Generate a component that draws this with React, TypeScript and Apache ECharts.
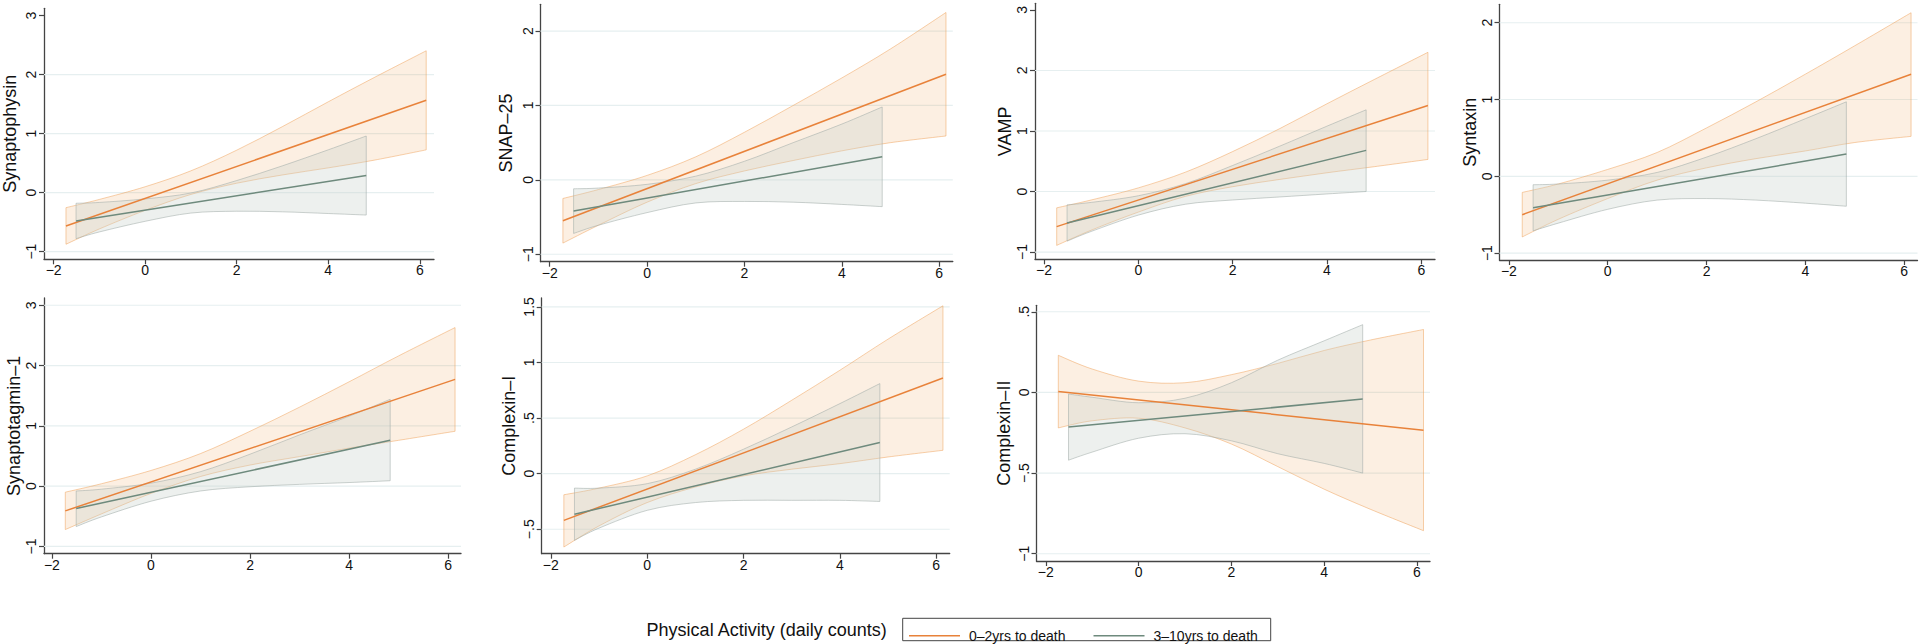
import React, { useEffect, useRef } from "react";
import * as echarts from "echarts";

const FONT = "'Liberation Sans', Arial, Helvetica, sans-serif";

// ---------- texts ----------
const earlyLabel = "0–2yrs to death";
const lateLabel = "3–10yrs to death";
const xTitle = "Physical Activity (daily counts)";
const panelNames = [
  "Synaptophysin",
  "SNAP–25",
  "VAMP",
  "Syntaxin",
  "Synaptotagmin–1",
  "Complexin–I",
  "Complexin–II",
];

// ---------- axes ----------
const xTicks = [-2, 0, 2, 4, 6];
const yTicks = [
  [-1, 0, 1, 2, 3],
  [-1, 0, 1, 2],
  [-1, 0, 1, 2, 3],
  [-1, 0, 1, 2],
  [-1, 0, 1, 2, 3],
  [-0.5, 0, 0.5, 1, 1.5],
  [-1, -0.5, 0, 0.5],
];
const yGridValues = [
  [-1, 0, 1, 2],
  [-1, 0, 1, 2],
  [-1, 0, 1, 2],
  [-1, 0, 1, 2],
  [-1, 0, 1, 2, 3],
  [-0.5, 0, 0.5, 1, 1.5],
  [-1, -0.5, 0, 0.5],
];
const xRanges = [
  [-2.21, 6.31],
  [-2.19, 6.28],
  [-2.19, 6.29],
  [-2.19, 6.27],
  [-2.16, 6.26],
  [-2.19, 6.28],
  [-2.2, 6.28],
];
const yRanges = [
  [-1.13, 3.125],
  [-1.1, 2.36],
  [-1.12, 3.11],
  [-1.09, 2.24],
  [-1.12, 3.12],
  [-0.72, 1.58],
  [-1.045, 0.54],
];

// ---------- data ----------
const earlyX = [-1.73, -1, 0, 1, 2, 3, 4, 5, 6.14];
const lateX = [-1.51, -1, 0, 1, 2, 3, 4, 4.83];

// fitted line at first / last x
const earlyFit = [
  [-0.565, 1.565],
  [-0.55, 1.42],
  [-0.58, 1.42],
  [-0.5, 1.33],
  [-0.41, 1.77],
  [-0.42, 0.86],
  [0.006, -0.234],
];
const lateFit = [
  [-0.48, 0.29],
  [-0.42, 0.31],
  [-0.52, 0.68],
  [-0.41, 0.29],
  [-0.37, 0.76],
  [-0.365, 0.28],
  [-0.215, -0.041],
];

// confidence band edges at earlyX / lateX
const earlyHi = [
  [-0.255, -0.115, 0.1, 0.37, 0.72, 1.12, 1.54, 1.95, 2.405],
  [-0.25, -0.13, 0.06, 0.31, 0.64, 1.0, 1.37, 1.76, 2.25],
  [-0.27, -0.14, 0.06, 0.32, 0.66, 1.04, 1.45, 1.85, 2.3],
  [-0.21, -0.1, 0.09, 0.31, 0.63, 0.97, 1.33, 1.7, 2.13],
  [-0.1, 0.04, 0.26, 0.54, 0.91, 1.31, 1.73, 2.16, 2.63],
  [-0.19, -0.13, -0.02, 0.17, 0.4, 0.66, 0.93, 1.21, 1.51],
  [0.23, 0.145, 0.07, 0.06, 0.11, 0.18, 0.26, 0.325, 0.39],
];
const earlyLo = [
  [-0.875, -0.615, -0.3, -0.03, 0.16, 0.3, 0.42, 0.55, 0.725],
  [-0.85, -0.61, -0.3, -0.05, 0.12, 0.26, 0.39, 0.5, 0.59],
  [-0.89, -0.64, -0.34, -0.08, 0.08, 0.2, 0.31, 0.41, 0.53],
  [-0.79, -0.56, -0.29, -0.05, 0.11, 0.23, 0.33, 0.44, 0.52],
  [-0.72, -0.46, -0.12, 0.16, 0.35, 0.49, 0.63, 0.76, 0.91],
  [-0.66, -0.47, -0.26, -0.12, -0.02, 0.04, 0.09, 0.15, 0.21],
  [-0.22, -0.176, -0.16, -0.22, -0.32, -0.46, -0.6, -0.725, -0.857],
];
const lateHi = [
  [-0.18, -0.166, -0.106, -0.006, 0.205, 0.455, 0.726, 0.96],
  [-0.12, -0.11, -0.06, 0.05, 0.25, 0.5, 0.75, 0.98],
  [-0.22, -0.18, -0.07, 0.13, 0.43, 0.75, 1.08, 1.35],
  [-0.11, -0.1, -0.05, 0.05, 0.25, 0.49, 0.75, 0.97],
  [-0.08, -0.05, 0.05, 0.24, 0.53, 0.85, 1.16, 1.44],
  [-0.13, -0.13, -0.09, 0.04, 0.22, 0.42, 0.63, 0.81],
  [-0.01, -0.03, -0.064, -0.036, 0.06, 0.2, 0.32, 0.42],
];
const lateLo = [
  [-0.78, -0.666, -0.486, -0.346, -0.315, -0.325, -0.354, -0.38],
  [-0.72, -0.61, -0.44, -0.31, -0.29, -0.3, -0.33, -0.36],
  [-0.82, -0.66, -0.39, -0.21, -0.14, -0.09, -0.04, 0.0],
  [-0.71, -0.61, -0.43, -0.31, -0.29, -0.31, -0.35, -0.39],
  [-0.67, -0.51, -0.25, -0.08, -0.01, 0.03, 0.06, 0.09],
  [-0.6, -0.49, -0.33, -0.26, -0.24, -0.24, -0.24, -0.25],
  [-0.42, -0.37, -0.284, -0.256, -0.3, -0.38, -0.44, -0.5],
];

// ---------- layout (pixels) ----------
const gridRects = [
  { left: 44, top: 8.3, width: 390, height: 251 },
  { left: 540.5, top: 4.3, width: 412.3, height: 257.4 },
  { left: 1035, top: 3.3, width: 400, height: 256 },
  { left: 1499.5, top: 4.3, width: 418, height: 255.7 },
  { left: 44, top: 298, width: 417, height: 255.7 },
  { left: 541.7, top: 298, width: 408, height: 255.7 },
  { left: 1036.5, top: 305.3, width: 393.5, height: 255.7 },
];
const nameGaps = [34, 35, 28, 28, 27, 33, 33];

// ---------- styles ----------
const EARLY_LINE = "#e8823a";
const LATE_LINE = "#6e8a7d";
const EARLY_FILL = "rgba(235,148,62,0.15)";
const EARLY_EDGE = "rgba(238,150,70,0.45)";
const LATE_FILL = "rgba(200,208,204,0.33)";
const LATE_EDGE = "rgba(160,172,168,0.55)";
const AXIS_COLOR = "#444";
const GRID_COLOR = "#e6eff0";
const TEXT_COLOR = "#111";

const fmt = (v: number) => {
  const a = Math.abs(v);
  const s = Number.isInteger(a) ? String(a) : String(a).replace(/^0\./, ".");
  return (v < 0 ? "−" : "") + s;
};

type Pt = number[];
function curve(pts: Pt[]): string {
  let d = "";
  for (let i = 0; i < pts.length - 1; i++) {
    const p0 = pts[i - 1] || pts[i];
    const p1 = pts[i];
    const p2 = pts[i + 1];
    const p3 = pts[i + 2] || p2;
    const c1x = p1[0] + (p2[0] - p0[0]) / 6;
    const c1y = p1[1] + (p2[1] - p0[1]) / 6;
    const c2x = p2[0] - (p3[0] - p1[0]) / 6;
    const c2y = p2[1] - (p3[1] - p1[1]) / 6;
    d += ` C ${c1x} ${c1y} ${c2x} ${c2y} ${p2[0]} ${p2[1]}`;
  }
  return d;
}

function bandRenderer(xs: number[], hi: number[], lo: number[], fill: string, stroke: string) {
  return (params: any, api: any) => {
    if (params.dataIndex !== 0) return null;
    const up = xs.map((x, i) => api.coord([x, hi[i]]));
    const dn = xs.map((x, i) => api.coord([x, lo[i]])).reverse();
    const d =
      `M ${up[0][0]} ${up[0][1]}` +
      curve(up) +
      ` L ${dn[0][0]} ${dn[0][1]}` +
      curve(dn) +
      " Z";
    return {
      type: "path",
      shape: { pathData: d },
      style: { fill, stroke, lineWidth: 1 },
    };
  };
}

function gridRenderer(params: any, api: any) {
  const p = api.coord([api.value(0), api.value(1)]);
  const cs = params.coordSys;
  return {
    type: "line",
    shape: { x1: cs.x, y1: p[1], x2: cs.x + cs.width, y2: p[1] },
    style: { stroke: GRID_COLOR, lineWidth: 1.2 },
  };
}

function buildOption() {
  const grid: any[] = [];
  const xAxis: any[] = [];
  const yAxis: any[] = [];
  const series: any[] = [];

  panelNames.forEach((name, i) => {
    grid.push({ ...gridRects[i], containLabel: false });
    xAxis.push({
      type: "value",
      gridIndex: i,
      min: xRanges[i][0],
      max: xRanges[i][1],
      axisLine: { show: true, onZero: false, lineStyle: { color: AXIS_COLOR, width: 1.3 } },
      axisTick: { show: true, length: 5, customValues: xTicks, lineStyle: { color: AXIS_COLOR, width: 1.2 } },
      axisLabel: {
        customValues: xTicks,
        formatter: fmt,
        margin: 11,
        verticalAlign: "middle",
        fontSize: 14,
        fontFamily: FONT,
        color: TEXT_COLOR,
      },
      splitLine: { show: false },
    });
    yAxis.push({
      type: "value",
      gridIndex: i,
      min: yRanges[i][0],
      max: yRanges[i][1],
      name,
      nameLocation: "middle",
      nameGap: nameGaps[i],
      nameTextStyle: {
        fontSize: 18,
        fontFamily: FONT,
        color: TEXT_COLOR,
        verticalAlign: "middle",
        align: "center",
      },
      axisLine: { show: true, onZero: false, lineStyle: { color: AXIS_COLOR, width: 1.3 } },
      axisTick: { show: true, length: 5, customValues: yTicks[i], lineStyle: { color: AXIS_COLOR, width: 1.2 } },
      axisLabel: {
        customValues: yTicks[i],
        formatter: fmt,
        rotate: 90,
        margin: 13,
        verticalAlign: "middle",
        align: "center",
        fontSize: 14,
        fontFamily: FONT,
        color: TEXT_COLOR,
      },
      splitLine: { show: false },
    });

    series.push({
      type: "custom",
      xAxisIndex: i,
      yAxisIndex: i,
      silent: true,
      z: 1,
      renderItem: gridRenderer,
      data: yGridValues[i].map((v) => [xRanges[i][0], v]),
    });
    series.push({
      type: "custom",
      xAxisIndex: i,
      yAxisIndex: i,
      silent: true,
      z: 2,
      renderItem: bandRenderer(earlyX, earlyHi[i], earlyLo[i], EARLY_FILL, EARLY_EDGE),
      data: earlyX.map((x, k) => [x, earlyLo[i][k], earlyHi[i][k]]),
    });
    series.push({
      type: "line",
      name: earlyLabel,
      xAxisIndex: i,
      yAxisIndex: i,
      silent: true,
      z: 2,
      symbol: "none",
      lineStyle: { color: EARLY_LINE, width: 1.5 },
      itemStyle: { color: EARLY_LINE },
      data: [
        [earlyX[0], earlyFit[i][0]],
        [earlyX[earlyX.length - 1], earlyFit[i][1]],
      ],
    });
    series.push({
      type: "custom",
      xAxisIndex: i,
      yAxisIndex: i,
      silent: true,
      z: 2,
      renderItem: bandRenderer(lateX, lateHi[i], lateLo[i], LATE_FILL, LATE_EDGE),
      data: lateX.map((x, k) => [x, lateLo[i][k], lateHi[i][k]]),
    });
    series.push({
      type: "line",
      name: lateLabel,
      xAxisIndex: i,
      yAxisIndex: i,
      silent: true,
      z: 2,
      symbol: "none",
      lineStyle: { color: LATE_LINE, width: 1.5 },
      itemStyle: { color: LATE_LINE },
      data: [
        [lateX[0], lateFit[i][0]],
        [lateX[lateX.length - 1], lateFit[i][1]],
      ],
    });
  });

  return {
    animation: false,
    backgroundColor: "#ffffff",
    textStyle: { fontFamily: FONT },
    grid,
    xAxis,
    yAxis,
    series,
    legend: {
      data: [
        { name: earlyLabel, icon: "rect" },
        { name: lateLabel, icon: "rect" },
      ],
      left: 909,
      top: 628.7,
      orient: "horizontal",
      itemWidth: 51,
      itemHeight: 1.5,
      itemGap: 28,
      padding: 0,
      selectedMode: false,
      textStyle: { fontSize: 14, fontFamily: FONT, color: TEXT_COLOR, padding: [0, 0, 0, 4] },
    },
    graphic: [
      {
        type: "rect",
        shape: { x: 902.7, y: 618.3, width: 368, height: 22.4 },
        style: { fill: "none", stroke: "#444", lineWidth: 1 },
        silent: true,
      },
      {
        type: "text",
        x: 886.7,
        y: 629.5,
        style: {
          text: xTitle,
          fontSize: 18,
          fontFamily: FONT,
          fill: TEXT_COLOR,
          align: "right",
          verticalAlign: "middle",
        },
        silent: true,
      },
    ],
  };
}

export default function App() {
  const ref = useRef<HTMLDivElement>(null);
  useEffect(() => {
    if (!ref.current) return;
    const chart = echarts.init(ref.current, null, { renderer: "svg" });
    chart.setOption(buildOption() as any);
    return () => chart.dispose();
  }, []);
  return (
    <div
      ref={ref}
      style={{ position: "fixed", left: 0, top: 0, width: 1920, height: 644, background: "#fff" }}
    />
  );
}
